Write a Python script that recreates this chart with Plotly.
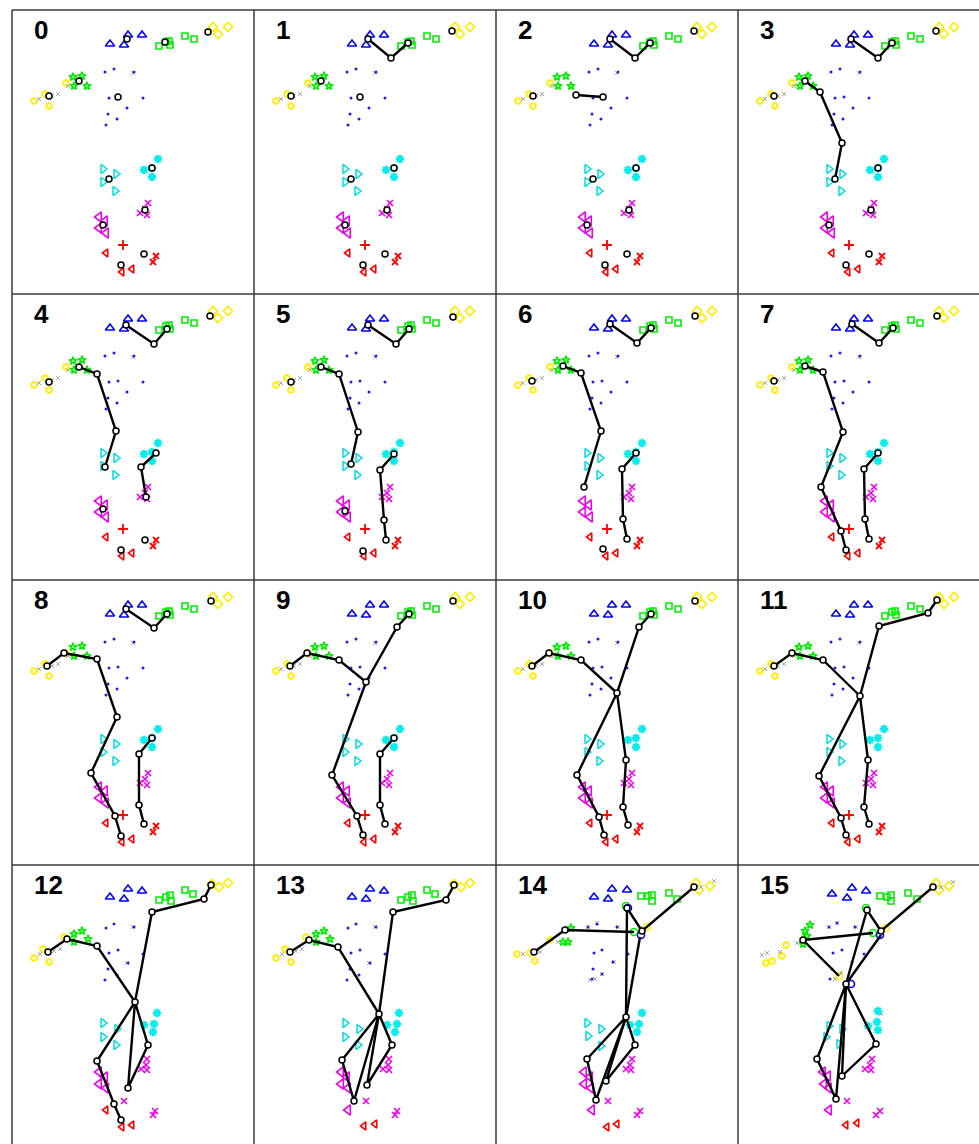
import plotly.graph_objects as go

# ---------------------------------------------------------------------------
# Page geometry (pixels) of the 4x4 grid of frames
# ---------------------------------------------------------------------------
W, H = 979, 1144
COL_LEFT = [12, 254, 496, 738]
ROW_TOP = [10, 294, 580, 865]
CELL_W = 242
LAST_ROW_H = 285

# ---------------------------------------------------------------------------
# Part-candidate detections, in frame-local pixel coordinates (x right, y down)
# ---------------------------------------------------------------------------
CLOUD_A = {  # frames 0-11
    "head_tri": [(98, 34), (112, 35), (116, 25), (130, 25)],
    "arm_sq": [(147, 36), (154, 32), (157, 31), (158, 35), (173, 26), (182, 29)],
    "hand_dia": [(201, 17), (206, 24), (216, 17)],
    "elbow_star": [(61, 67), (70, 66), (62, 76), (75, 76)],
    "hand_hex": [(54, 73), (33, 84), (22, 91), (37, 96)],
    "grey_x": [(27, 89), (40, 86), (46, 84), (56, 76), (121, 63)],
    "torso_dot": [(93, 62), (102, 59), (122, 62), (97, 88), (106, 87), (131, 88),
                  (115, 98), (96, 104), (105, 109), (94, 115)],
    "knee_ast": [(146, 149), (132, 160), (140, 158), (140, 167)],
    "hip_tri": [(91, 159), (104, 164), (91, 172), (103, 181)],
    "shin_x": [(136, 193), (128, 203), (133, 199), (135, 205)],
    "ankle_tri": [(87, 207), (93, 211), (87, 218), (94, 223)],
    "foot_plus": [(111, 235)],
    "foot_tri": [(94, 243), (110, 262), (120, 259)],
    "foot_x": [(144, 246), (141, 252)],
}

CLOUD_B = {  # frame 12
    "head_tri": [(98, 32), (112, 34), (116, 24), (130, 26)],
    "arm_sq": [(147, 35), (154, 32), (158, 30), (159, 36), (173, 25), (181, 29)],
    "hand_dia": [(200, 19), (207, 22), (216, 18)],
    "elbow_star": [(62, 69), (70, 66), (76, 74), (62, 77)],
    "hand_hex": [(52, 72), (31, 84), (22, 93), (37, 97)],
    "grey_x": [(28, 89), (42, 86), (48, 84), (121, 62), (115, 98)],
    "torso_dot": [(94, 63), (102, 59), (122, 62), (97, 88), (106, 85), (131, 89),
                  (116, 98), (96, 104), (105, 110), (93, 115)],
    "knee_ast": [(145, 148), (132, 160), (142, 159), (141, 167)],
    "hip_tri": [(91, 158), (105, 164), (91, 172), (104, 180)],
    "shin_x": [(135, 194), (134, 200), (129, 204), (135, 205), (112, 236),
               (141, 250), (143, 246)],
    "ankle_tri": [(87, 207), (93, 212), (87, 219), (94, 223)],
    "foot_tri": [(94, 245), (110, 262), (120, 260)],
}

# frame 13 differs from frame 12 only around the left foot
CLOUD_B2 = dict(
    CLOUD_B,
    knee_ast=[(145, 148), (133, 160), (143, 159), (141, 167)],
    ankle_tri=[(87, 207), (93, 212), (87, 219), (94, 223), (94, 245)],
    foot_tri=[(110, 261), (121, 259)],
)

CLOUD_C = {  # frame 14
    "head_tri": [(98, 32), (112, 34), (116, 24), (131, 25)],
    "arm_sq": [(145, 31), (152, 31), (156, 30), (156, 36), (173, 28), (181, 34)],
    "hand_dia": [(200, 18), (203, 25), (214, 21)],
    "elbow_star": [(75, 63), (67, 77), (72, 77)],
    "hand_hex": [(21, 89), (34, 88), (39, 96), (54, 75)],
    "grey_x": [(27, 89), (44, 87), (62, 77), (92, 62), (101, 58), (122, 62), (205, 22),
               (218, 16), (99, 114), (106, 109), (94, 115), (118, 97)],
    "torso_dot": [(92, 62), (101, 59), (121, 62), (98, 88), (106, 85), (132, 89),
                  (117, 97), (97, 104), (106, 109), (96, 114)],
    "knee_ast": [(146, 148), (134, 160), (143, 159), (141, 167)],
    "hip_tri": [(91, 158), (105, 164), (92, 171), (105, 181)],
    "shin_x": [(136, 194), (134, 200), (130, 204), (135, 205), (112, 236),
               (141, 250), (144, 246)],
    "ankle_tri": [(88, 207), (94, 212), (88, 219), (95, 223), (96, 245)],
    "foot_tri": [(111, 262), (121, 259)],
    "ring_green": [(130, 41), (138, 67)],
    "ring_yellow": [(151, 62)],
    "ring_blue": [(132, 43), (145, 70)],
}

CLOUD_D = {  # frame 15
    "head_tri": [(94, 29), (109, 33), (114, 23), (128, 26)],
    "arm_sq": [(142, 31), (149, 32), (153, 30), (153, 36), (170, 28), (179, 34)],
    "hand_dia": [(198, 18), (201, 25), (211, 21)],
    "elbow_star": [(72, 60), (67, 66), (69, 71), (65, 79)],
    "hand_hex": [(48, 80), (44, 91), (34, 96), (28, 98)],
    "grey_x": [(24, 90), (29, 88), (42, 87), (59, 78), (91, 62), (99, 58), (118, 62),
               (203, 22), (215, 17), (97, 114), (143, 149)],
    "torso_dot": [(91, 62), (99, 58), (117, 62), (95, 88), (104, 85), (114, 97),
                  (126, 89), (94, 104), (103, 108), (92, 114)],
    "knee_ast": [(140, 146), (139, 157), (140, 165), (130, 161)],
    "hip_tri": [(91, 161), (104, 164), (88, 172), (101, 179)],
    "shin_x": [(134, 194), (132, 200), (127, 204), (133, 205), (109, 236),
               (138, 250), (142, 246)],
    "ankle_tri": [(85, 207), (90, 211), (86, 219), (91, 223), (91, 245)],
    "foot_tri": [(108, 260), (119, 258)],
    "ring_green": [(128, 43), (135, 68)],
    "ring_yellow": [(148, 63), (101, 111)],
    "ring_blue": [(142, 70), (113, 119)],
}

FRAME_CLOUD = [CLOUD_A] * 12 + [CLOUD_B, CLOUD_B2, CLOUD_C, CLOUD_D]

# ---------------------------------------------------------------------------
# Selected joints per frame, the limbs joining them (index paths) and the
# limb end points that carry no joint marker
# ---------------------------------------------------------------------------
JOINTS = [
    [(196, 22), (115, 29), (153, 32), (67, 71), (37, 86), (106, 87), (140, 158),
     (97, 169), (133, 200), (91, 215), (132, 244), (109, 255)],
    [(114, 29), (137, 48), (154, 33), (198, 21), (67, 71), (37, 86), (106, 87),
     (140, 158), (97, 169), (133, 200), (91, 215), (131, 244), (109, 255)],
    [(114, 29), (139, 48), (154, 33), (80, 85), (107, 87), (198, 21), (37, 86),
     (140, 158), (97, 169), (133, 200), (91, 215), (131, 244), (109, 255)],
    [(113, 29), (140, 48), (154, 33), (67, 71), (82, 82), (104, 133), (97, 169),
     (198, 21), (36, 86), (140, 158), (133, 200), (91, 215), (131, 244), (108, 255)],
    [(114, 31), (142, 50), (155, 35), (67, 73), (85, 80), (104, 137), (93, 173),
     (144, 159), (129, 173), (134, 203), (198, 22), (37, 88), (91, 215),
     (133, 246), (109, 256)],
    [(114, 31), (142, 50), (155, 35), (67, 73), (85, 80), (104, 138), (97, 170),
     (140, 160), (126, 176), (130, 226), (132, 246), (199, 23), (37, 88),
     (91, 217), (109, 257)],
    [(114, 30), (141, 49), (155, 34), (67, 72), (85, 79), (105, 137), (88, 193),
     (140, 159), (126, 175), (127, 225), (131, 245), (199, 22), (36, 87), (107, 255)],
    [(114, 30), (141, 49), (155, 34), (67, 72), (85, 78), (105, 138), (83, 193),
     (103, 237), (108, 256), (140, 159), (126, 175), (127, 225), (131, 245),
     (199, 22), (36, 87)],
    [(114, 29), (142, 48), (155, 34), (35, 86), (52, 73), (85, 79), (105, 137),
     (79, 193), (103, 236), (109, 256), (140, 158), (127, 174), (127, 225),
     (132, 244), (199, 21)],
    [(36, 86), (53, 73), (85, 80), (112, 102), (143, 47), (155, 34), (78, 195),
     (103, 236), (109, 255), (140, 158), (126, 174), (126, 225), (131, 244), (199, 21)],
    [(36, 86), (53, 73), (85, 80), (121, 113), (143, 47), (155, 34), (81, 195),
     (103, 237), (108, 255), (130, 180), (127, 227), (132, 245), (199, 21)],
    [(36, 86), (54, 73), (85, 80), (122, 116), (141, 46), (190, 33), (199, 20),
     (81, 196), (103, 238), (108, 255), (130, 180), (126, 227), (131, 244)],
    [(36, 87), (55, 74), (85, 81), (123, 137), (140, 47), (192, 34), (199, 20),
     (85, 196), (102, 239), (109, 255), (136, 180), (116, 223)],
    [(36, 87), (55, 75), (84, 82), (125, 149), (139, 47), (192, 35), (200, 20),
     (88, 195), (100, 236), (138, 180), (113, 220)],
    [(38, 87), (69, 65), (138, 67), (131, 43), (146, 66), (198, 22), (144, 72),
     (130, 152), (91, 194), (100, 235), (110, 216), (139, 180)],
    [(65, 75), (135, 68), (101, 111), (129, 45), (143, 66), (195, 22), (143, 70),
     (108, 119), (79, 194), (98, 234), (104, 211), (138, 179)],
]

LIMBS = [
    [],
    [[0, 1, 2]],
    [[0, 1, 2], [3, 4]],
    [[0, 1, 2], [3, 4, 5, 6]],
    [[0, 1, 2], [3, 4, 5, 6], [7, 8, 9]],
    [[0, 1, 2], [3, 4, 5, 6], [7, 8, 9, 10]],
    [[0, 1, 2], [3, 4, 5, 6], [7, 8, 9, 10]],
    [[0, 1, 2], [3, 4, 5, 6, 7, 8], [9, 10, 11, 12]],
    [[0, 1, 2], [3, 4, 5, 6, 7, 8, 9], [10, 11, 12, 13]],
    [[0, 1, 2, 3], [3, 4, 5], [3, 6, 7, 8], [9, 10, 11, 12]],
    [[0, 1, 2, 3], [3, 4, 5], [3, 6, 7, 8], [3, 9, 10, 11]],
    [[0, 1, 2, 3], [3, 4, 5, 6], [3, 7, 8, 9], [3, 10, 11, 12]],
    [[0, 1, 2, 3], [3, 4, 5, 6], [3, 7, 8, 9], [3, 10, 11, 3]],
    [[0, 1, 2, 3], [3, 4, 5, 6], [3, 7, 8, 3], [3, 9, 10, 3]],
    [[0, 1, 2], [3, 4, 5], [3, 7], [6, 7], [7, 8, 9, 7], [7, 10, 11, 7]],
    [[1, 0, 2], [3, 4, 5], [3, 7], [6, 7], [7, 8, 9, 7], [7, 10, 11, 7]],
]

BARE = [[]] * 14 + [[2, 6], [1, 2, 6]]

FRAME_LABELS = [str(i) for i in range(16)]

# ---------------------------------------------------------------------------
# Marker styles of the candidate classes
# ---------------------------------------------------------------------------
STYLE = {
    "head_tri": ("triangle-up-open", "#0000ff", 8, 1.6),
    "arm_sq": ("square-open", "#00ee00", 6, 1.6),
    "hand_dia": ("diamond-open", "#ffee00", 7, 1.7),
    "elbow_star": ("star-open", "#00ee00", 6, 1.6),
    "hand_hex": ("hexagon-open", "#ffee00", 6, 2.0),
    "grey_x": ("x-thin-open", "#aaaaaa", 4, 1.0),
    "torso_dot": ("circle", "#2020ee", 3, 0),
    "knee_ast": ("asterisk-open", "#00eeee", 7, 2.2),
    "hip_tri": ("triangle-right-open", "#00dddd", 8, 1.5),
    "shin_x": ("x-thin-open", "#ee00ee", 6, 1.6),
    "ankle_tri": ("triangle-left-open", "#ee00ee", 9, 1.6),
    "foot_plus": ("cross-thin-open", "#ff0000", 7, 1.8),
    "foot_tri": ("triangle-left-open", "#ff0000", 7, 1.6),
    "foot_x": ("x-thin-open", "#ff0000", 6, 1.8),
    "ring_green": ("circle-open", "#00ee00", 7, 1.6),
    "ring_yellow": ("circle-open", "#ffee00", 7, 1.6),
    "ring_blue": ("circle-open", "#0000ff", 7, 1.6),
}

fig = go.Figure()
layout_axes = {}
annotations = []

for k in range(16):
    r, c = divmod(k, 4)
    x0 = COL_LEFT[c]
    x1 = min(x0 + CELL_W, W)
    y0 = ROW_TOP[r]
    y1 = ROW_TOP[r + 1] if r < 3 else min(y0 + LAST_ROW_H, H)
    sfx = "" if k == 0 else str(k + 1)
    xa, ya = "x" + sfx, "y" + sfx

    layout_axes["xaxis" + sfx] = dict(
        domain=[x0 / W, x1 / W], range=[0, x1 - x0], visible=False,
        fixedrange=True, anchor=ya)
    layout_axes["yaxis" + sfx] = dict(
        domain=[1 - y1 / H, 1 - y0 / H], range=[y1 - y0, 0], visible=False,
        fixedrange=True, anchor=xa)

    # candidate detections
    for name, pts in FRAME_CLOUD[k].items():
        sym, col, size, lw = STYLE[name]
        fig.add_trace(go.Scatter(
            x=[p[0] for p in pts], y=[p[1] for p in pts], mode="markers",
            marker=dict(symbol=sym, color=col, size=size,
                        line=dict(color=col, width=lw)),
            xaxis=xa, yaxis=ya, showlegend=False, hoverinfo="skip"))

    # limbs
    pts = JOINTS[k]
    lx, ly = [], []
    for path in LIMBS[k]:
        lx += [pts[i][0] for i in path] + [None]
        ly += [pts[i][1] for i in path] + [None]
    if lx:
        fig.add_trace(go.Scatter(
            x=lx, y=ly, mode="lines", line=dict(color="black", width=2.4),
            xaxis=xa, yaxis=ya, showlegend=False, hoverinfo="skip"))

    # joint markers
    shown = [p for i, p in enumerate(pts) if i not in BARE[k]]
    fig.add_trace(go.Scatter(
        x=[p[0] for p in shown], y=[p[1] for p in shown], mode="markers",
        marker=dict(symbol="circle", color="white", size=6,
                    line=dict(color="black", width=1.5)),
        xaxis=xa, yaxis=ya, showlegend=False, hoverinfo="skip"))

    annotations.append(dict(
        x=20, y=20, xref=xa, yref=ya, text="<b>%s</b>" % FRAME_LABELS[k],
        showarrow=False, xanchor="left", yanchor="middle",
        font=dict(family="Liberation Sans, Arial, sans-serif", size=26,
                  color="black")))

# frame borders
shapes = []
for x in COL_LEFT:
    shapes.append(dict(type="line", xref="paper", yref="paper",
                       x0=x / W, x1=x / W, y0=1 - ROW_TOP[0] / H, y1=0,
                       line=dict(color="#3a3a3a", width=1.5)))
for y in ROW_TOP:
    shapes.append(dict(type="line", xref="paper", yref="paper",
                       x0=COL_LEFT[0] / W, x1=1, y0=1 - y / H, y1=1 - y / H,
                       line=dict(color="#3a3a3a", width=1.5)))

fig.update_layout(
    width=W, height=H, margin=dict(l=0, r=0, t=0, b=0),
    paper_bgcolor="white", plot_bgcolor="white",
    shapes=shapes, annotations=annotations, **layout_axes)

fig.write_html("out.html")
